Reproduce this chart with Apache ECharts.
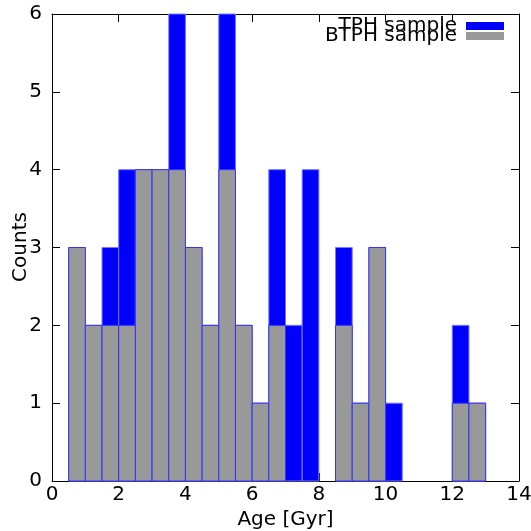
<!DOCTYPE html>
<html><head><meta charset="utf-8">
<script src="https://cdn.jsdelivr.net/npm/echarts@6/dist/echarts.min.js"></script>
<style>html,body{margin:0;padding:0;background:#fff}#c{width:531px;height:531px}</style>
</head><body><div id="c"></div>
<script>
const binStarts = [0.5,1,1.5,2,2.5,3,3.5,4,4.5,5,5.5,6,6.5,7,7.5,8,8.5,9,9.5,10,10.5,11,11.5,12,12.5];
const binWidth = 0.5;
const tphCounts  = [3,2,3,4,4,4,6,3,2,6,2,1,4,2,4,0,3,1,3,1,0,0,0,2,1];
const btphCounts = [3,2,2,2,4,4,4,3,2,4,2,1,2,0,0,0,2,1,3,0,0,0,0,1,1];
const xTitle = 'Age [Gyr]';
const yTitle = 'Counts';
const FONT = 'DejaVu Sans';

function toData(counts){
  return binStarts.map((s,i)=>[s, s+binWidth, counts[i]]);
}
function makeRender(fill, stroke){
  return function(params, api){
    const h = api.value(2);
    if (!h) return null;
    const p0 = api.coord([api.value(0), h]);
    const p1 = api.coord([api.value(1), 0]);
    return {type:'rect', shape:{x:p0[0], y:p0[1], width:p1[0]-p0[0], height:p1[1]-p0[1]},
      style:{fill:fill, stroke:stroke, lineWidth:1}};
  };
}
const chart = echarts.init(document.getElementById('c'), null, {renderer:'canvas'});
const axisCommon = {
  axisLine:{show:true, onZero:false, lineStyle:{color:'#000', width:1}},
  axisTick:{show:true, inside:true, length:8, lineStyle:{color:'#000'}},
  splitLine:{show:false}
};
chart.setOption({
  animation:false,
  backgroundColor:'#fff',
  grid:{left:52, right:12, top:14, bottom:50, containLabel:false, outerBoundsMode:'none'},
  legend:{
    orient:'vertical', align:'right', right:27, top:16, padding:0, itemGap:-10,
    itemWidth:38, itemHeight:8, icon:'rect',
    textStyle:{fontFamily:FONT, fontSize:20, color:'#000', padding:[0,4,0,0]},
    data:[{name:'TPH sample', itemStyle:{color:'#0000ff'}},{name:'BTPH sample', itemStyle:{color:'#999999'}}]
  },
  graphic:[{
    type:'text', x:21, y:247, rotation:Math.PI/2,
    style:{text:yTitle, fontFamily:FONT, fontSize:20, fill:'#000', align:'center', verticalAlign:'middle'}
  }],
  xAxis:[
    Object.assign({type:'value', min:0, max:14, interval:2, position:'bottom',
      name:xTitle, nameLocation:'middle', nameGap:29,
      nameTextStyle:{fontFamily:FONT, fontSize:20, color:'#000'},
      axisLabel:{fontFamily:FONT, fontSize:20, color:'#000', margin:4}}, axisCommon),
    Object.assign({type:'value', min:0, max:14, interval:2, position:'top',
      axisLabel:{show:false}}, axisCommon)
  ],
  yAxis:[
    Object.assign({type:'value', min:0, max:6, interval:1, position:'left',
      axisLabel:{fontFamily:FONT, fontSize:20, color:'#000', margin:10}}, axisCommon),
    Object.assign({type:'value', min:0, max:6, interval:1, position:'right',
      axisLabel:{show:false}}, axisCommon)
  ],
  series:[
    {name:'TPH sample', type:'custom', xAxisIndex:0, yAxisIndex:0,
      itemStyle:{color:'#0000ff'},
      renderItem:makeRender('#0000ff','#7777ff'), data:toData(tphCounts),
      encode:{x:[0,1], y:2}},
    {name:'BTPH sample', type:'custom', xAxisIndex:0, yAxisIndex:0,
      itemStyle:{color:'#999999'},
      renderItem:makeRender('#999999','#3333ff'), data:toData(btphCounts),
      encode:{x:[0,1], y:2}}
  ]
});
</script></body></html>
